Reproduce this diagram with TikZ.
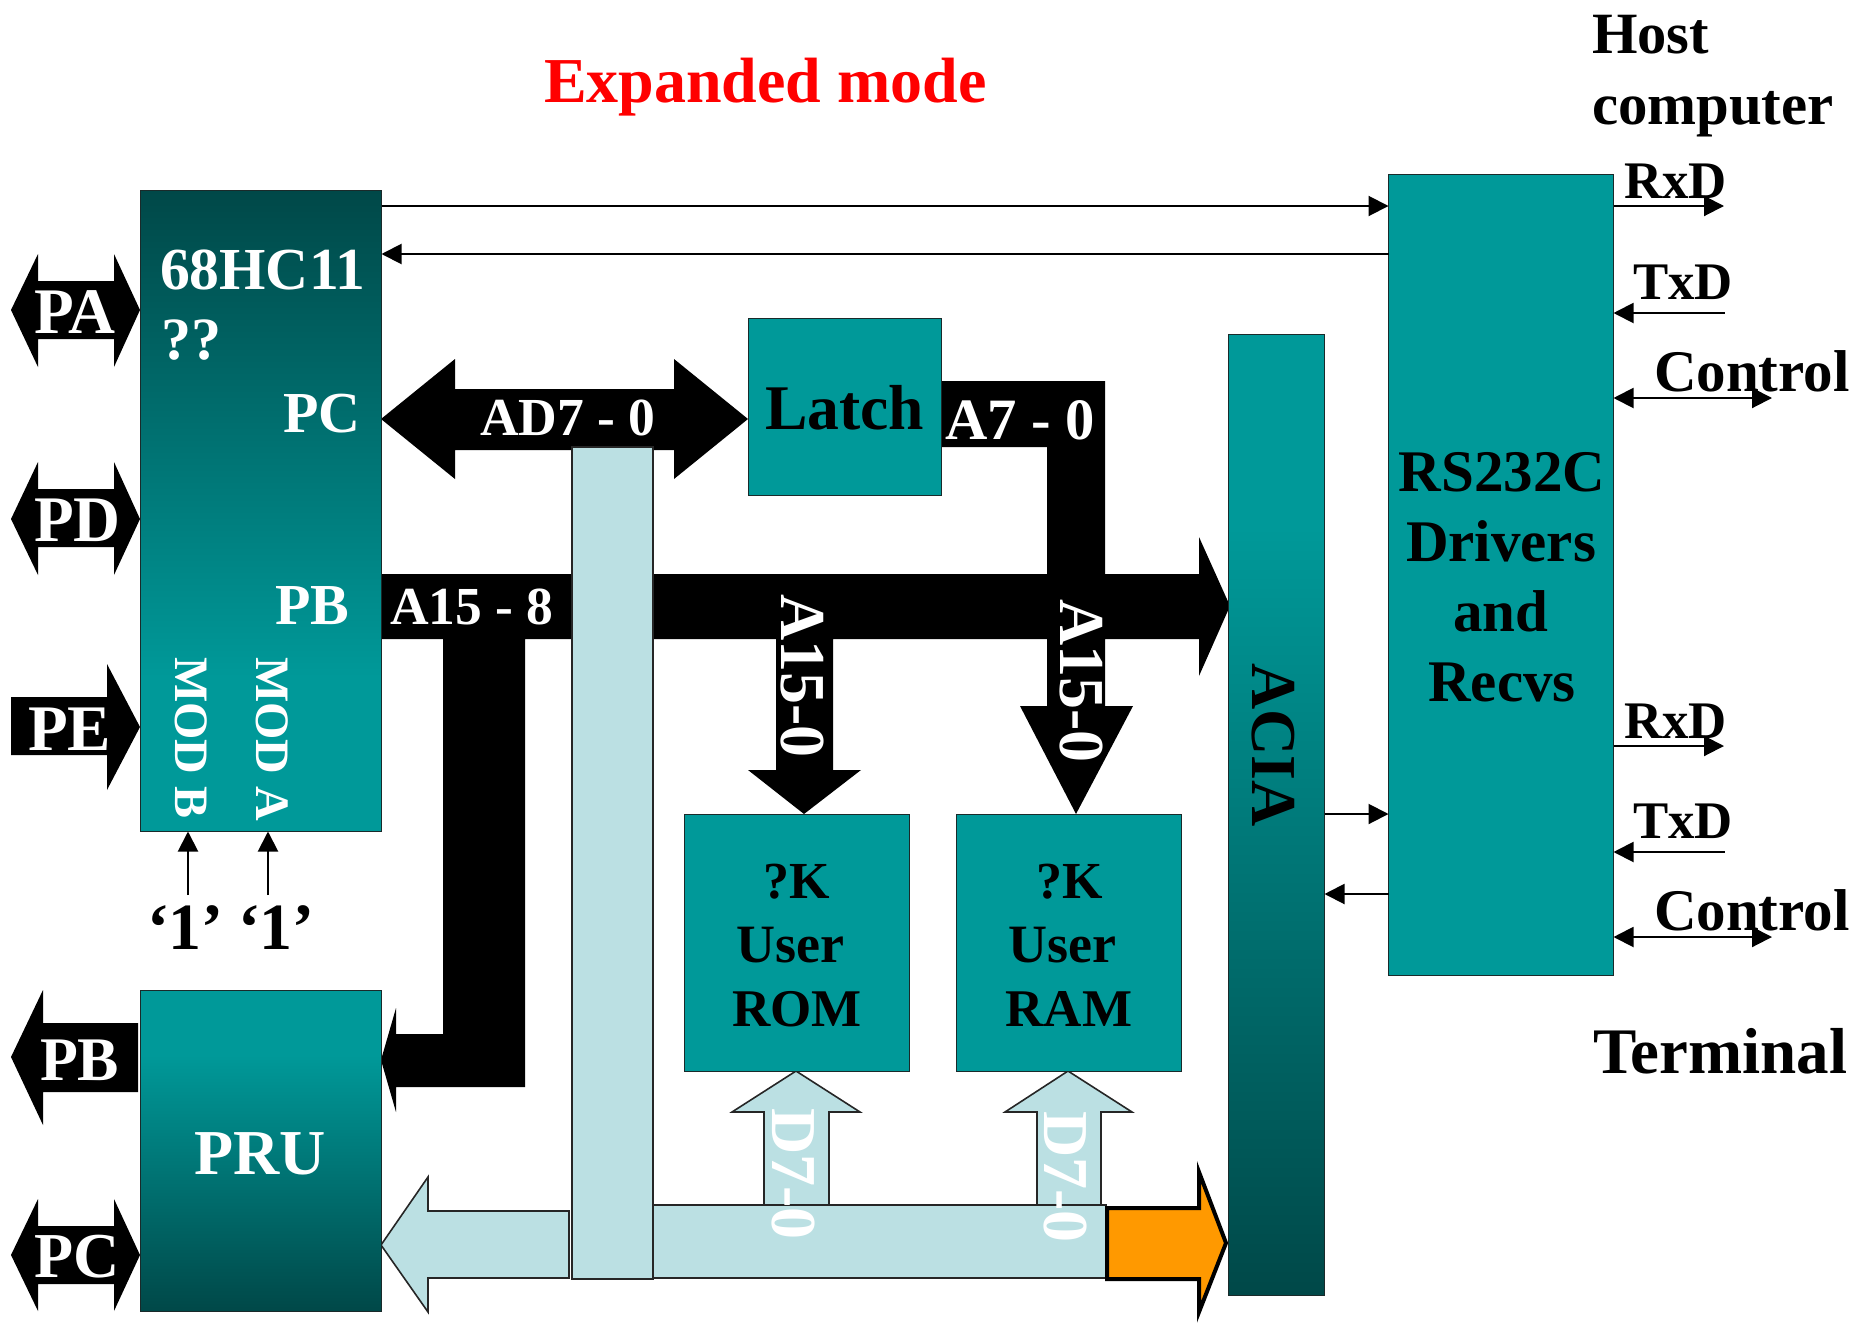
\documentclass[tikz,border=0pt]{standalone}
\usepackage{fontspec}
\setmainfont{Liberation Serif}
\usetikzlibrary{arrows.meta}
\definecolor{tealb}{HTML}{009999}
\definecolor{teald}{HTML}{004848}
\definecolor{pale}{HTML}{BBE0E3}
\definecolor{orng}{HTML}{FF9900}
\definecolor{edge}{HTML}{1A2A2A}
\pgfdeclareverticalshading{fadeup}{100bp}{color(0bp)=(tealb); color(37bp)=(tealb); color(75bp)=(teald); color(100bp)=(teald)}
\pgfdeclareverticalshading{fadedown}{100bp}{color(0bp)=(teald); color(25bp)=(teald); color(65bp)=(tealb); color(100bp)=(tealb)}
\tikzset{
  x=1pt,y=-1pt,
  box/.style={draw=edge,line width=1.6pt,inner sep=0pt,outer sep=0pt,anchor=north west},
  flatbox/.style={box,fill=tealb},
  txt/.style={inner sep=0pt,outer sep=0pt,anchor=base,font=\fontsize{#1}{#1}\selectfont\bfseries},
  txl/.style={txt=#1,anchor=base west},
  txr/.style={txt=#1,anchor=base west,rotate=-90},
  thin/.style={draw=black,line width=2pt},
  tipr/.style={-{Triangle[length=20pt,width=20pt]}},
  tipl/.style={{Triangle[length=20pt,width=20pt]}-},
  tipb/.style={{Triangle[length=20pt,width=20pt]}-{Triangle[length=20pt,width=20pt]}},
  bus/.style={fill=black},
  palebus/.style={fill=pale,draw=black!85,line width=1.6pt,line join=miter},
}
\begin{document}
\begin{tikzpicture}
\useasboundingbox (0,0) rectangle (1854,1322);

% black port arrows
\fill[bus] (11,310)--(38,254)--(38,281)--(114,281)--(114,254)--(140,310)--(114,367)--(114,339)--(38,339)--(38,367)--cycle;
\fill[bus] (11,519)--(38,462)--(38,489)--(114,489)--(114,462)--(140,519)--(114,575)--(114,547)--(38,547)--(38,575)--cycle;
\fill[bus] (11,697)--(107,697)--(107,664)--(140,727)--(107,790)--(107,755)--(11,755)--cycle;
\fill[bus] (11,1057)--(43,990)--(43,1023)--(138,1023)--(138,1092)--(43,1092)--(43,1125)--cycle;
\fill[bus] (11,1255)--(38,1199)--(38,1226)--(114,1226)--(114,1199)--(140,1255)--(114,1311)--(114,1284)--(38,1284)--(38,1311)--cycle;

% AD7-0
\fill[bus] (381,419)--(455,359)--(455,389)--(674,389)--(674,359)--(748,419)--(674,479)--(674,450)--(455,450)--(455,479)--cycle;
% main address bus with head, A7-0 feed and A15-0 branches
\fill[bus] (381,574)--(1047,574)--(1047,447)--(941,447)--(941,381)--(1105,381)--(1105,574)--(1199,574)--(1199,537)--(1230,606)--(1199,676)--(1199,639)--(1105,639)--(1105,706)--(1133,706)--(1076,814)--(1020,706)--(1047,706)--(1047,639)--(833,639)--(833,770)--(861,770)--(804,814)--(748,770)--(776,770)--(776,639)--(525,639)--(525,1087)--(396,1087)--(396,1112)--(381,1060)--(396,1008)--(396,1034)--(443,1034)--(443,639)--(381,639)--cycle;

% data arrows under the pale bus
\draw[palebus] (796,1071)--(860,1112)--(829,1112)--(829,1205)--(764,1205)--(764,1112)--(732,1112)--cycle;
\draw[palebus] (1068,1071)--(1132,1112)--(1101,1112)--(1101,1205)--(1037,1205)--(1037,1112)--(1005,1112)--cycle;
% pale buses
\draw[palebus] (381,1245)--(428,1177)--(428,1211)--(569,1211)--(569,1278)--(428,1278)--(428,1312)--cycle;
\draw[palebus] (653,1205) rectangle (1106,1278);
\draw[palebus] (572,447) rectangle (653,1279);
% orange head
\draw[fill=orng,draw=black,line width=4pt,line join=miter] (1107,1208)--(1199,1208)--(1199,1172)--(1226,1243)--(1199,1312)--(1199,1279)--(1107,1279)--cycle;

% blocks
\node[box,shading=fadeup,minimum width=241pt,minimum height=641pt] (hc) at (140.5,190.5) {};
\node[box,shading=fadedown,minimum width=241pt,minimum height=321pt] (pru) at (140.5,990.5) {};
\node[flatbox,minimum width=193pt,minimum height=177pt] (latch) at (748.5,318.5) {};
\node[flatbox,minimum width=225pt,minimum height=257pt] (rom) at (684.5,814.5) {};
\node[flatbox,minimum width=225pt,minimum height=257pt] (ram) at (956.5,814.5) {};
\node[box,shading=fadedown,minimum width=96pt,minimum height=961pt] (acia) at (1228.5,334.5) {};
\node[flatbox,minimum width=225pt,minimum height=801pt] (rs) at (1388.5,174.5) {};

% free ends
\coordinate (m1) at (188,895);
\coordinate (m2) at (268,895);
\coordinate (rx1) at (1724,206);
\coordinate (tx1) at (1725,313);
\coordinate (ct1) at (1772,398);
\coordinate (rx2) at (1724,746);
\coordinate (tx2) at (1725,852);
\coordinate (ct2) at (1772,937);

% thin connectors
\draw[thin,tipr] (hc.east |- 0,206) -- (rs.west |- 0,206);
\draw[thin,tipl] (hc.east |- 0,254) -- (rs.west |- 0,254);
\draw[thin,tipr] (m1) -- (m1 |- hc.south);
\draw[thin,tipr] (m2) -- (m2 |- hc.south);
\draw[thin,tipr] (acia.east |- 0,814) -- (rs.west |- 0,814);
\draw[thin,tipl] (acia.east |- 0,894) -- (rs.west |- 0,894);
\draw[thin,tipr] (rs.east |- rx1) -- (rx1);
\draw[thin,tipl] (rs.east |- tx1) -- (tx1);
\draw[thin,tipb] (rs.east |- ct1) -- (ct1);
\draw[thin,tipr] (rs.east |- rx2) -- (rx2);
\draw[thin,tipl] (rs.east |- tx2) -- (tx2);
\draw[thin,tipb] (rs.east |- ct2) -- (ct2);

% titles
\node[txl=64,text=red] (title) at (544,102) {Expanded mode};
\node[txl=58.5] (host) at (1592,53) {Host};
\node[txl=58.8] (comp) at (1592,124) {computer};
\node[txl=65] (term) at (1593,1073) {Terminal};

% right side labels
\node[txl=52.8] (lrx1) at (1624,198) {RxD};
\node[txl=52.8] (ltx1) at (1633,299) {TxD};
\node[txl=59] (lct1) at (1654,391) {Control};
\node[txl=52.8] (lrx2) at (1624,738) {RxD};
\node[txl=52.8] (ltx2) at (1633,838) {TxD};
\node[txl=59] (lct2) at (1654,930) {Control};

% block labels
\node[txl=59.6,text=white] (l68) at (160,289) {68HC11};
\node[txl=60,text=white] (lqq) at (161,359) {??};
\node[txl=58,text=white] (lpc) at (283,432) {PC};
\node[txl=58,text=white] (lpb) at (275,624) {PB};
\node[txr=48,text=white] (lmb) at (175,657) {MOD B};
\node[txr=48,text=white] (lma) at (256,657) {MOD A};
\node[txl=66] (q1) at (147,949) {‘1’};
\node[txl=66] (q2) at (238,949) {‘1’};
\node[txl=64,text=white] (lpru) at (194,1174) {PRU};
\node[txl=63.6] (llatch) at (765,429) {Latch};
\node[txt=52] (k1) at (797,898) {?K};
\node[txt=54] (u1) at (790,962) {User};
\node[txt=53] (r1) at (797,1026) {ROM};
\node[txt=52] (k2) at (1070,898) {?K};
\node[txt=54] (u2) at (1062,962) {User};
\node[txt=53] (r2) at (1069,1026) {RAM};
\node[txr=64] (lacia) at (1252,663) {ACIA};
\node[txt=59] (d1) at (1502,491) {RS232C};
\node[txt=59] (d2) at (1501,561) {Drivers};
\node[txt=59] (d3) at (1501,631) {and};
\node[txt=59] (d4) at (1502,701) {Recvs};

% port labels
\node[txl=65,text=white] (lpa) at (34,333) {PA};
\node[txl=65,text=white] (lpd) at (34,541) {PD};
\node[txl=65,text=white] (lpe) at (28,750) {PE};
\node[txl=62,text=white] (lpb2) at (40,1080) {PB};
\node[txl=64,text=white] (lpc2) at (34,1277) {PC};

% bus labels
\node[txl=53.5,text=white] (lad) at (480,435) {AD7 - 0};
\node[txl=53.5,text=white] (la15) at (390,624) {A15 - 8};
\node[txl=58.6,text=white] (la7) at (945,439) {A7 - 0};
\node[txr=64,text=white] (lb1) at (781,594) {A15-0};
\node[txr=64,text=white] (lb2) at (1060,599) {A15-0};
\node[txr=64,text=white] (ld1) at (772,1108) {D7-0};
\node[txr=64,text=white] (ld2) at (1044,1111) {D7-0};
\end{tikzpicture}
\end{document}
